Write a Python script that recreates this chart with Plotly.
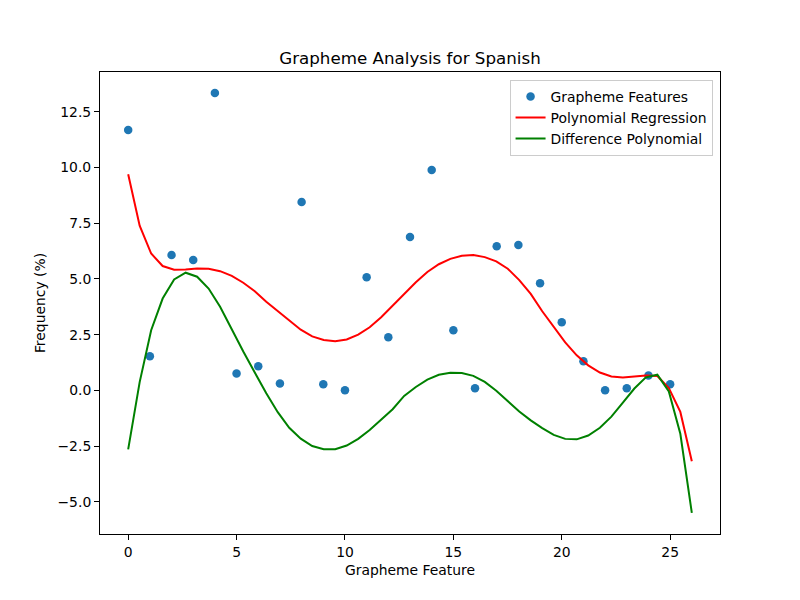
import plotly.graph_objects as go

# scatter points
feature_idx = list(range(26))
frequency = [11.69, 1.53, 6.07, 5.85, 13.35, 0.76, 1.08, 0.31, 8.45, 0.27,
             0.00, 5.08, 2.38, 6.88, 9.89, 2.70, 0.09, 6.47, 6.52, 4.81,
             3.06, 1.30, 0.00, 0.09, 0.67, 0.27]

# sample positions of both fitted curves
curve_x = [0.00, 0.53, 1.06, 1.59, 2.12, 2.65, 3.18, 3.71, 4.24, 4.78,
           5.31, 5.84, 6.37, 6.90, 7.43, 7.96, 8.49, 9.02, 9.55, 10.08,
           10.61, 11.14, 11.67, 12.20, 12.73, 13.27, 13.80, 14.33, 14.86, 15.39,
           15.92, 16.45, 16.98, 17.51, 18.04, 18.57, 19.10, 19.63, 20.16, 20.69,
           21.22, 21.76, 22.29, 22.82, 23.35, 23.88, 24.41, 24.94, 25.47, 26.00]

poly_fit = [9.70, 7.39, 6.14, 5.58, 5.41, 5.42, 5.47, 5.46, 5.35, 5.14,
            4.83, 4.45, 3.98, 3.55, 3.12, 2.72, 2.42, 2.26, 2.20, 2.28,
            2.50, 2.83, 3.28, 3.80, 4.33, 4.85, 5.31, 5.66, 5.90, 6.04,
            6.07, 5.98, 5.79, 5.46, 4.95, 4.33, 3.55, 2.85, 2.15, 1.57,
            1.12, 0.80, 0.62, 0.57, 0.62, 0.66, 0.64, 0.10, -0.97, -3.18]

diff_poly = [-2.65, 0.37, 2.70, 4.12, 4.98, 5.28, 5.10, 4.57, 3.75, 2.72,
             1.74, 0.80, -0.13, -0.98, -1.68, -2.17, -2.50, -2.64, -2.64, -2.48,
             -2.18, -1.78, -1.33, -0.85, -0.25, 0.15, 0.48, 0.70, 0.79, 0.78,
             0.65, 0.38, -0.02, -0.50, -0.95, -1.35, -1.70, -2.00, -2.18, -2.20,
             -2.03, -1.68, -1.18, -0.55, 0.08, 0.58, 0.70, -0.05, -1.95, -5.50]

x_ticks = [0, 5, 10, 15, 20, 25]
y_ticks = [-5.0, -2.5, 0.0, 2.5, 5.0, 7.5, 10.0, 12.5]

fig = go.Figure()
fig.add_trace(go.Scatter(x=feature_idx, y=frequency, mode="markers", name="Grapheme Features",
                         marker=dict(color="#1f77b4", size=8.5)))
fig.add_trace(go.Scatter(x=curve_x, y=poly_fit, mode="lines", name="Polynomial Regression",
                         line=dict(color="red", width=2)))
fig.add_trace(go.Scatter(x=curve_x, y=diff_poly, mode="lines", name="Difference Polynomial",
                         line=dict(color="green", width=2)))

axis_style = dict(showline=True, linecolor="black", linewidth=1, mirror=True,
                  ticks="outside", ticklen=5, tickcolor="black", showgrid=False,
                  zeroline=False, automargin=False, tickfont=dict(size=13.9, color="black"))

# page body has an 8px margin, so margins are pulled in by 8px on top/left
fig.update_layout(
    width=800,
    height=600,
    plot_bgcolor="white",
    paper_bgcolor="white",
    font=dict(family="DejaVu Sans", color="black"),
    margin=dict(l=92, r=88, t=64, b=74),
    title=dict(text="Grapheme Analysis for Spanish", xref="paper", x=0.5, xanchor="center",
               y=1 - 50 / 600, yanchor="middle", font=dict(size=16.7)),
    xaxis=dict(range=[-1.3, 27.3], tickvals=x_ticks,
               title=dict(text="Grapheme Feature", font=dict(size=13.9), standoff=6), **axis_style),
    yaxis=dict(range=[-6.45, 14.29], tickvals=y_ticks, tickformat=".1f",
               title=dict(text="Frequency (%)", font=dict(size=13.9), standoff=8), **axis_style),
    legend=dict(x=0.988, xanchor="right", y=0.983, yanchor="top",
                bgcolor="rgba(255,255,255,0.8)", bordercolor="#cccccc", borderwidth=1,
                font=dict(size=13.9), tracegroupgap=0),
    showlegend=True,
)

fig.write_html("out.html")
